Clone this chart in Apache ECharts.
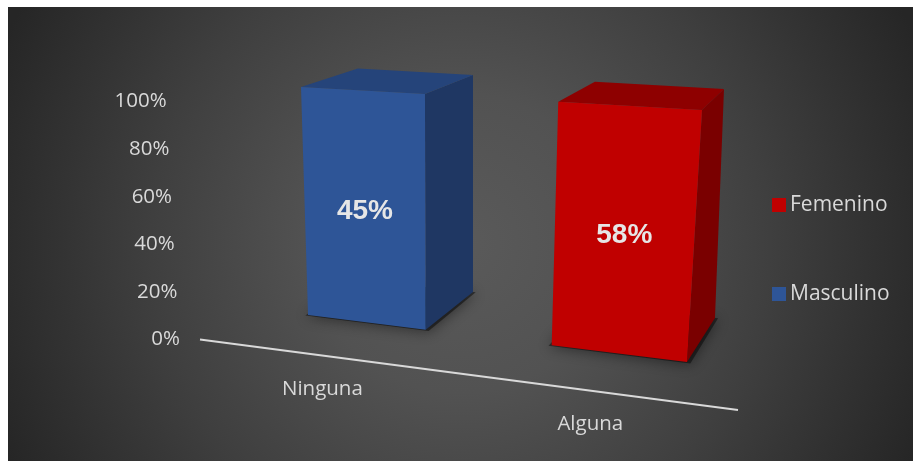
<!DOCTYPE html>
<html>
<head>
<meta charset="utf-8">
<script src="https://cdn.jsdelivr.net/npm/echarts@6/dist/echarts.min.js"></script>
<style>
html,body{margin:0;padding:0;background:#ffffff;}
#chart{width:913px;height:461px;}
</style>
</head>
<body>
<div id="chart"></div>
<script>
// ---- data ----
const categories = ['Ninguna', 'Alguna'];
const masculino = [45, 0];
const femenino = [0, 58];
const yTicks = [0, 20, 40, 60, 80, 100];
const seriesNames = ['Masculino', 'Femenino'];
const legendOrder = ['Femenino', 'Masculino'];

// ---- view (perspective planes: corners of the unit square u,v -> screen) ----
const VIEW = {
  front: [[252.1, 308.1], [758.5, 370.9], [778.2, 114.4], [242.2, 83.6]],
  back:  [[308.1, 274.3], [779.9, 325.0], [791.5, 92.8], [302.6, 65.5]],
  axis:  [[200, 339.5], [738, 410], [759, 137], [187, 101.5]]
};
const BAR_RATIO = 0.5;

const COLORS = {
  Masculino: { front: '#2E5597', top: '#25447A', side: '#1F3763' },
  Femenino:  { front: '#C00000', top: '#8E0000', side: '#7A0000' }
};
const TEXT_COLOR = '#D9D9D9';
const FONT = '"Open Sans", "Noto Sans", sans-serif';

function makeHomography(q) {
  const p0 = q[0], p1 = q[1], p2 = q[2], p3 = q[3];
  const dx1 = p1[0] - p2[0], dx2 = p3[0] - p2[0], dx3 = p0[0] - p1[0] + p2[0] - p3[0];
  const dy1 = p1[1] - p2[1], dy2 = p3[1] - p2[1], dy3 = p0[1] - p1[1] + p2[1] - p3[1];
  const den = dx1 * dy2 - dx2 * dy1;
  const g = (dx3 * dy2 - dx2 * dy3) / den;
  const h = (dx1 * dy3 - dx3 * dy1) / den;
  const a = p1[0] - p0[0] + g * p1[0], b = p3[0] - p0[0] + h * p3[0], c = p0[0];
  const d = p1[1] - p0[1] + g * p1[1], e = p3[1] - p0[1] + h * p3[1], f = p0[1];
  return function (u, v) {
    const w = g * u + h * v + 1;
    return [(a * u + b * v + c) / w, (d * u + e * v + f) / w];
  };
}
const FRONT = makeHomography(VIEW.front);
const BACK = makeHomography(VIEW.back);
const AXIS = makeHomography(VIEW.axis);

// 100% stacked shares
const totals = categories.map((c, i) => masculino[i] + femenino[i]);
const raw = { Masculino: masculino, Femenino: femenino };
function stackedData(name) {
  return categories.map((c, i) => {
    let start = 0;
    for (const n of seriesNames) {
      if (n === name) break;
      start += raw[n][i];
    }
    const s = totals[i] ? start / totals[i] * 100 : 0;
    const e = totals[i] ? (start + raw[name][i]) / totals[i] * 100 : 0;
    return [i, s, e, raw[name][i]];
  });
}

function barRender(name) {
  const col = COLORS[name];
  return function (params, api) {
    const rect = params.coordSys;
    const value = api.value(3);
    if (!(value > 0)) return null;
    const ci = api.value(0);
    const c0 = api.coord([ci, api.value(1)]);
    const c1 = api.coord([ci, api.value(2)]);
    const half = api.size([1, 0])[0] * BAR_RATIO / 2;
    const toU = px => (px - rect.x) / rect.width;
    const toV = py => (rect.y + rect.height - py) / rect.height;
    const uL = toU(c0[0] - half), uR = toU(c0[0] + half);
    const v0 = toV(c0[1]), v1 = toV(c1[1]);
    const children = [];
    if (api.value(1) === 0) {
      const e = 0.006;
      children.push({
        type: 'polygon',
        shape: { points: [FRONT(uL - e, -0.004), FRONT(uR + e, -0.004), BACK(uR + e, 0), BACK(uL - e, 0)] },
        style: { fill: 'rgba(0,0,0,0.45)', shadowBlur: 14, shadowColor: 'rgba(0,0,0,1)', shadowOffsetY: 1 }
      });
    }
    children.push({
      type: 'polygon',
      shape: { points: [FRONT(uR, v0), BACK(uR, v0), BACK(uR, v1), FRONT(uR, v1)] },
      style: { fill: col.side }
    });
    children.push({
      type: 'polygon',
      shape: { points: [FRONT(uL, v1), FRONT(uR, v1), BACK(uR, v1), BACK(uL, v1)] },
      style: { fill: col.top }
    });
    children.push({
      type: 'polygon',
      shape: { points: [FRONT(uL, v0), FRONT(uR, v0), FRONT(uR, v1), FRONT(uL, v1)] },
      style: { fill: col.front }
    });
    const lc = FRONT((uL + uR) / 2, (v0 + v1) / 2);
    children.push({
      type: 'text',
      x: lc[0] + 1, y: lc[1] + 2,
      style: {
        text: value + '%',
        fill: '#E6E6E6',
        font: 'bold 28px "Liberation Sans", Arial, sans-serif',
        align: 'center', verticalAlign: 'middle'
      }
    });
    return { type: 'group', children: children };
  };
}

function floorRender(params, api) {
  const rect = params.coordSys;
  const i = api.value(0);
  const p = api.coord([i, 0]);
  const u = (p[0] - rect.x) / rect.width;
  const pt = AXIS(u, 0);
  const children = [];
  if (i === 0) {
    const a = AXIS(0, 0), b = AXIS(1, 0);
    children.push({
      type: 'line',
      shape: { x1: a[0], y1: a[1], x2: b[0], y2: b[1] },
      style: { stroke: '#D9D9D9', lineWidth: 2 }
    });
  }
  children.push({
    type: 'text',
    x: pt[0] + 2, y: pt[1] + 34,
    style: {
      text: categories[i],
      fill: TEXT_COLOR,
      font: '20.5px ' + FONT,
      align: 'center', verticalAlign: 'middle'
    }
  });
  return { type: 'group', children: children };
}

const rich = {};
yTicks.forEach((t, k) => {
  rich['t' + k] = {
    color: TEXT_COLOR, fontSize: 20.5, fontFamily: FONT,
    padding: [0, 13.3 * t / 100, 0, 0]
  };
});

const chart = echarts.init(document.getElementById('chart'), null, { renderer: 'canvas' });
chart.setOption({
  animation: false,
  backgroundColor: 'transparent',
  graphic: [{
    type: 'rect', z: -10, silent: true,
    shape: { x: 8, y: 7, width: 905, height: 454 },
    style: {
      fill: {
        type: 'radial', x: 0.5, y: 0.52, r: 1.1,
        colorStops: [
          { offset: 0, color: '#5a5a5a' },
          { offset: 0.3, color: '#525252' },
          { offset: 0.62, color: '#3f3f3f' },
          { offset: 0.8, color: '#333333' },
          { offset: 1, color: '#262626' }
        ]
      }
    }
  }],
  grid: { left: 200, top: 101.5, width: 538, height: 238 },
  xAxis: {
    type: 'category', data: categories,
    axisLine: { show: false }, axisTick: { show: false }, axisLabel: { show: false },
    splitLine: { show: false }
  },
  yAxis: {
    type: 'value', min: 0, max: 100, interval: 20,
    axisLine: { show: false }, axisTick: { show: false }, splitLine: { show: false },
    axisLabel: {
      margin: 20,
      formatter: function (v) { return '{t' + yTicks.indexOf(v) + '|' + v + '%}'; },
      rich: rich
    }
  },
  legend: {
    data: legendOrder,
    orient: 'vertical',
    left: 772, top: 193, padding: 0,
    itemWidth: 14, itemHeight: 14, itemGap: 65,
    icon: 'rect',
    textStyle: { color: TEXT_COLOR, fontSize: 21, fontFamily: FONT, lineHeight: 24, padding: [0, 0, 0, -1] }
  },
  series: [
    {
      type: 'custom', name: 'floor', silent: true, z: 1,
      coordinateSystem: 'cartesian2d',
      encode: { x: 0, y: 1 },
      data: categories.map((c, i) => [i, 0]),
      renderItem: floorRender
    }
  ].concat(seriesNames.map(name => ({
    type: 'custom', name: name, z: 3,
    coordinateSystem: 'cartesian2d',
    itemStyle: { color: COLORS[name].front },
    encode: { x: 0, y: [1, 2] },
    data: stackedData(name),
    renderItem: barRender(name)
  })))
});
</script>
</body>
</html>
